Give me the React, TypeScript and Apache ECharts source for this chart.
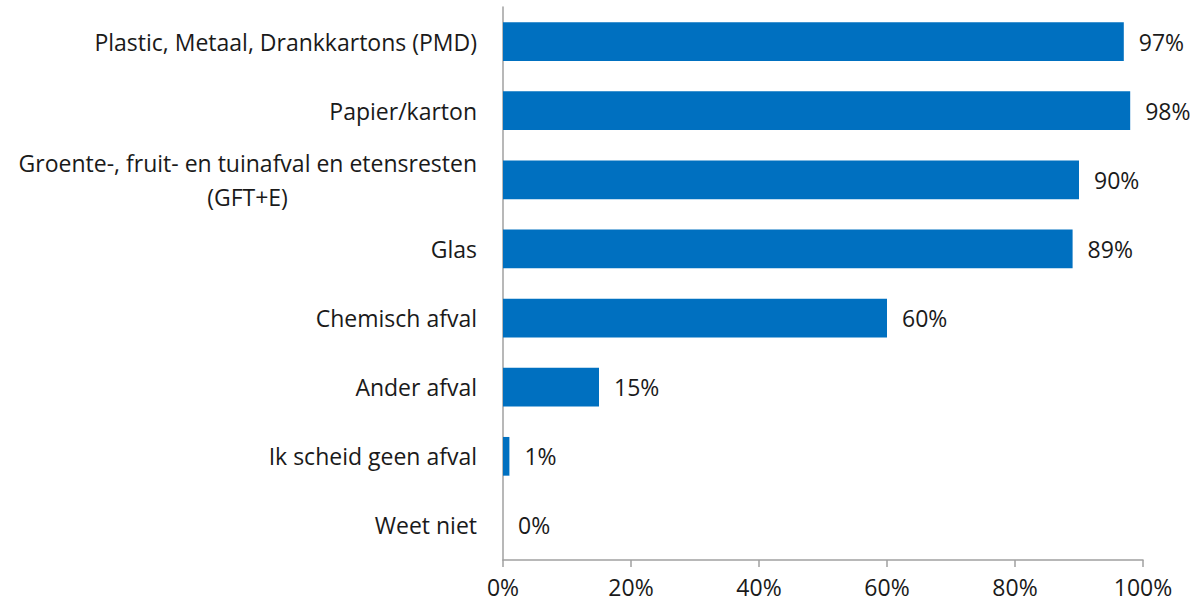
import React, { useEffect, useRef } from "react";
import * as echarts from "echarts";

const categories = [
  "Plastic, Metaal, Drankkartons (PMD)",
  "Papier/karton",
  "Groente-, fruit- en tuinafval en etensresten\n(GFT+E)",
  "Glas",
  "Chemisch afval",
  "Ander afval",
  "Ik scheid geen afval",
  "Weet niet",
];
const values = [97, 98, 90, 89, 60, 15, 1, 0];
const xTicks = [0, 20, 40, 60, 80, 100];

const FONT = "'Open Sans', sans-serif";
const FS = 23;

function measure(text: string): number {
  const c = document.createElement("canvas").getContext("2d")!;
  c.font = FS + "px " + FONT;
  return c.measureText(text).width;
}

export default function App() {
  const ref = useRef<HTMLDivElement>(null);
  useEffect(() => {
    const chart = echarts.init(ref.current!, null, { renderer: "svg" });
    const firstLine = categories[2].split("\n")[0];
    const w = Math.ceil(measure(firstLine));
    chart.setOption({
      animation: false,
      grid: { left: 503, right: 55, top: 7, bottom: 45, containLabel: false },
      xAxis: {
        type: "value",
        min: 0,
        max: 100,
        interval: 20,
        splitLine: { show: false },
        axisLine: { show: true, lineStyle: { color: "#a0a0a0", width: 1.5 } },
        axisTick: { show: true, length: 7, lineStyle: { color: "#a0a0a0", width: 1.5 } },
        axisLabel: {
          formatter: (v: number) => (xTicks.includes(v) ? v + "%" : ""),
          color: "#1a1a1a",
          fontSize: FS,
          lineHeight: 22,
          fontFamily: FONT,
          margin: 16,
        },
      },
      yAxis: {
        type: "category",
        inverse: true,
        data: categories,
        axisLine: { show: true, lineStyle: { color: "#a0a0a0", width: 1.5 } },
        axisTick: { show: false },
        axisLabel: {
          color: "#1a1a1a",
          fontSize: FS,
          fontFamily: FONT,
          margin: 26,
          formatter: (v: string) => {
            const parts = v.split("\n");
            if (parts.length === 1) return v;
            return "{a|" + parts[0] + "}\n{b|" + parts[1] + "}";
          },
          rich: {
            a: { fontSize: FS, fontFamily: FONT, color: "#1a1a1a", lineHeight: 34 },
            b: { fontSize: FS, fontFamily: FONT, color: "#1a1a1a", lineHeight: 34, width: w, align: "center" },
          },
        },
      },
      series: [
        {
          type: "bar",
          data: values,
          barCategoryGap: "44%",
          itemStyle: { color: "#0070c0" },
          label: {
            show: true,
            position: "right",
            distance: 15,
            formatter: "{c}%",
            color: "#1a1a1a",
            fontSize: FS,
            fontFamily: FONT,
          },
        },
      ],
    });
    return () => chart.dispose();
  }, []);
  return (
    <div
      ref={ref}
      style={{ position: "absolute", left: 0, top: 0, width: 1198, height: 605, background: "#fff" }}
    />
  );
}
